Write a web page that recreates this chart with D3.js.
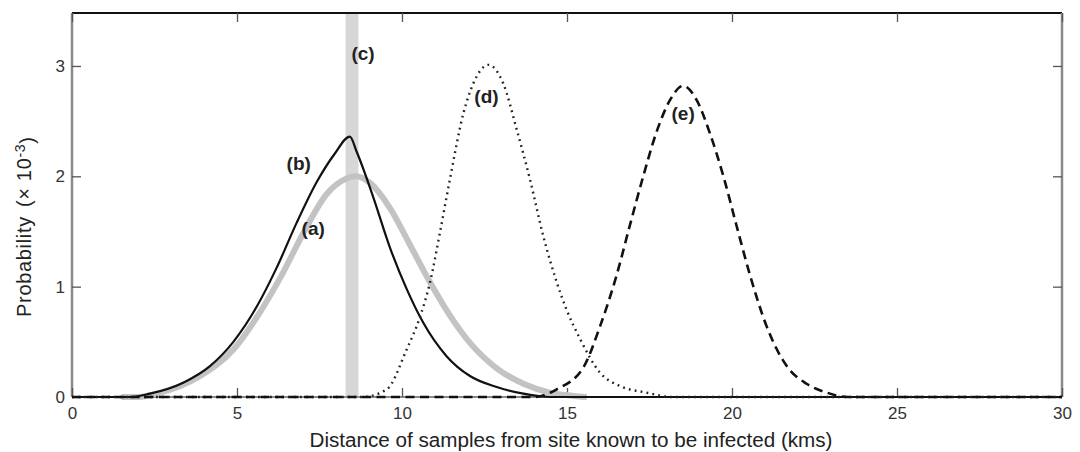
<!DOCTYPE html>
<html lang="en">
<head>
<meta charset="UTF-8">
<title>Probability vs distance</title>
<script src="https://d3js.org/d3.v7.min.js"></script>
<style>
  body { margin: 0; background: #fff; }
  svg { font-family: "Liberation Sans", Arial, sans-serif; }
</style>
</head>
<body>
<svg id="chart"></svg>
<script>
// distances (km) and probabilities (x 10^-3)
const kmA = [1.5, 2, 2.57, 3.88, 4.89, 5.7, 6.4, 7.0, 7.72, 8.32, 8.6, 9.03, 9.64, 10.24, 10.85, 11.45, 12.06, 12.87, 13.68, 14.48, 15.2, 15.6];
const pA  = [0, 0, 0.03, 0.19, 0.43, 0.77, 1.13, 1.48, 1.84, 1.98, 2.0, 1.94, 1.71, 1.38, 1.04, 0.74, 0.49, 0.26, 0.12, 0.04, 0.01, 0];

const kmB = [0, 1.8, 2.36, 3.37, 4.18, 4.89, 5.6, 6.2, 6.81, 7.42, 7.95, 8.42, 8.63, 9.13, 9.64, 10.14, 10.65, 11.35, 12.06, 12.87, 13.68, 14.5, 30];
const pB  = [0, 0, 0.03, 0.13, 0.28, 0.50, 0.82, 1.17, 1.58, 1.95, 2.20, 2.36, 2.22, 1.81, 1.35, 0.98, 0.67, 0.37, 0.19, 0.09, 0.03, 0, 0];

const bandC = [8.29, 8.68];

const kmD = [0, 8.8, 9.54, 10.14, 10.55, 10.85, 11.15, 11.45, 11.86, 12.16, 12.62, 13.07, 13.48, 13.88, 14.28, 14.69, 14.99, 15.39, 16.0, 16.6, 17.4, 18.2, 30];
const pD  = [0, 0, 0.07, 0.43, 0.73, 1.04, 1.49, 1.97, 2.57, 2.84, 3.01, 2.84, 2.42, 1.97, 1.46, 1.04, 0.79, 0.53, 0.22, 0.10, 0.04, 0, 0];

const kmE = [0, 14.0, 14.69, 15.5, 16.0, 16.5, 16.9, 17.31, 17.7, 18.12, 18.52, 18.93, 19.33, 19.74, 20.14, 20.55, 21.05, 21.66, 22.26, 22.87, 23.5, 30];
const pE  = [0, 0, 0.07, 0.27, 0.64, 1.10, 1.55, 2.0, 2.39, 2.69, 2.82, 2.69, 2.39, 2.0, 1.55, 1.10, 0.64, 0.28, 0.12, 0.04, 0, 0];

const xTicks = [0, 5, 10, 15, 20, 25, 30];
const yTicks = [0, 1, 2, 3];

const labelNames = ["(a)", "(b)", "(c)", "(d)", "(e)"];
const labelKm    = [7.31, 6.87, 8.82, 12.56, 18.52];
const labelP     = [1.53, 2.12, 3.11, 2.72, 2.57];

const width = 1080, height = 452;
const margin = {top: 13, right: 18, bottom: 55, left: 72};

const svg = d3.select("#chart").attr("width", width).attr("height", height);

const x = d3.scaleLinear().domain([0, 30]).range([margin.left, width - margin.right]);
const y = d3.scaleLinear().domain([0, 3.48]).range([height - margin.bottom, margin.top]);

// (c) vertical band
svg.append("rect")
  .attr("x", x(bandC[0]))
  .attr("width", x(bandC[1]) - x(bandC[0]))
  .attr("y", y(3.48))
  .attr("height", y(0) - y(3.48))
  .attr("fill", "#d7d7d7");

// box
const boxColor = "#8a8a8a";
svg.append("line").attr("x1", x(0)).attr("x2", x(30)).attr("y1", y(3.48)).attr("y2", y(3.48))
  .attr("stroke", "#111").attr("stroke-width", 2);
svg.append("line").attr("x1", x(0)).attr("x2", x(30)).attr("y1", y(0)).attr("y2", y(0))
  .attr("stroke", boxColor).attr("stroke-width", 2);
svg.append("line").attr("x1", x(0)).attr("x2", x(0)).attr("y1", y(0)).attr("y2", y(3.48))
  .attr("stroke", boxColor).attr("stroke-width", 2.5);
svg.append("line").attr("x1", x(30)).attr("x2", x(30)).attr("y1", y(0)).attr("y2", y(3.48))
  .attr("stroke", boxColor).attr("stroke-width", 2.5);

// axes, ticks pointing inward
const tickColor = "#555";
const xAxis = svg.append("g")
  .attr("transform", `translate(0,${y(0)})`)
  .call(d3.axisBottom(x).tickValues(xTicks).tickSize(-9).tickPadding(10).tickFormat(d3.format("d")));
const xTop = svg.append("g")
  .attr("transform", `translate(0,${y(3.48)})`)
  .call(d3.axisTop(x).tickValues(xTicks).tickSize(-9).tickFormat(""));
const yAxis = svg.append("g")
  .attr("transform", `translate(${x(0)},0)`)
  .call(d3.axisLeft(y).tickValues(yTicks).tickSize(-9).tickPadding(7).tickFormat(d3.format("d")));
const yRight = svg.append("g")
  .attr("transform", `translate(${x(30)},0)`)
  .call(d3.axisRight(y).tickValues(yTicks).tickSize(-9).tickFormat(""));

[xAxis, xTop, yAxis, yRight].forEach(g => {
  g.attr("font-size", 17).attr("font-family", "'Liberation Sans', Arial, sans-serif");
  g.select(".domain").remove();
  g.selectAll(".tick line").attr("stroke", tickColor).attr("stroke-width", 1.3);
  g.selectAll(".tick text").attr("fill", "#333");
});

// curves
const line = d3.line()
  .x(d => x(d[0]))
  .y(d => y(d[1]))
  .curve(d3.curveMonotoneX);

const series = [
  {km: kmA, p: pA, stroke: "#c3c3c3", width: 6, dash: null},
  {km: kmB, p: pB, stroke: "#111", width: 2.2, dash: null},
  {km: kmD, p: pD, stroke: "#222", width: 2.4, dash: "1.8,4.2"},
  {km: kmE, p: pE, stroke: "#111", width: 2.6, dash: "9,5.5"}
];

series.forEach(s => {
  svg.append("path")
    .datum(d3.zip(s.km, s.p))
    .attr("d", line)
    .attr("fill", "none")
    .attr("stroke", s.stroke)
    .attr("stroke-width", s.width)
    .attr("stroke-dasharray", s.dash)
    .attr("stroke-linejoin", "round");
});

// curve labels
svg.selectAll(".curve-label")
  .data(d3.zip(labelNames, labelKm, labelP))
  .enter()
  .append("text")
  .attr("class", "curve-label")
  .attr("x", d => x(d[1]))
  .attr("y", d => y(d[2]))
  .attr("text-anchor", "middle")
  .attr("dominant-baseline", "central")
  .attr("fill", "#222")
  .style("font-size", "19px")
  .style("font-weight", "bold")
  .text(d => d[0]);

// axis titles
svg.append("text")
  .attr("x", 571)
  .attr("y", 447)
  .attr("text-anchor", "middle")
  .attr("fill", "#222")
  .style("font-size", "20px")
  .attr("textLength", 523)
  .attr("lengthAdjust", "spacingAndGlyphs")
  .text("Distance of samples from site known to be infected (kms)");

const yTitle = svg.append("text")
  .attr("transform", "translate(31,227) rotate(-90)")
  .attr("text-anchor", "middle")
  .attr("fill", "#222")
  .style("font-size", "20px")
  .attr("textLength", 180)
  .attr("lengthAdjust", "spacing");
yTitle.append("tspan").text("Probability");
yTitle.append("tspan").attr("dx", 9).text("(\u00d7 10");
yTitle.append("tspan").attr("dy", "-0.45em").style("font-size", "14px").text("-3");
yTitle.append("tspan").attr("dy", "0.45em").text(")");
</script>
</body>
</html>
